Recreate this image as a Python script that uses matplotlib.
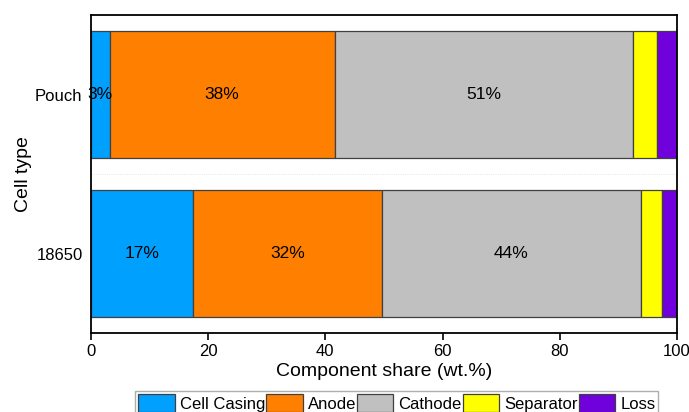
import matplotlib.pyplot as plt
import numpy as np

plt.rcParams['font.family'] = ['Liberation Sans', 'DejaVu Sans']

# Cell types, bottom to top
cell_types = ['18650', 'Pouch']

# Component shares (wt.%) per cell type
cell_casing = [17.4, 3.2]
anode = [32.3, 38.4]
cathode = [44.1, 50.9]
separator = [3.6, 4.1]
loss = [2.6, 3.4]

components = ['Cell Casing', 'Anode', 'Cathode', 'Separator', 'Loss']
colors = ['#00A0FF', '#FF8000', '#C0C0C0', '#FFFF00', '#7000DC']
labelled = ['Cell Casing', 'Anode', 'Cathode']

fig = plt.figure(figsize=(6.89, 4.12), dpi=100)
ax = fig.add_axes([0.132, 0.1917, 0.8506, 0.7719])

y = np.arange(len(cell_types))
left = np.zeros(len(cell_types))
for name, vals, color in zip(components, [cell_casing, anode, cathode, separator, loss], colors):
    vals = np.array(vals)
    ax.barh(y, vals, left=left, height=0.8, color=color, edgecolor='#404040',
            linewidth=0.9, label=name)
    if name in labelled:
        for yi, (l, v) in enumerate(zip(left, vals)):
            ax.text(l + v / 2, yi, f'{v:.0f}%', ha='center', va='center', fontsize=12.5)
    left += vals

# light separator between categories
ax.axhline(0.5, color='#dddddd', linewidth=0.6, linestyle=':', zorder=0)

ax.set_xlim(0, 100)
ax.set_ylim(-0.5, 1.5)
ax.set_xticks(np.arange(0, 101, 20))
ax.set_yticks(y)
ax.set_yticklabels(cell_types)
ax.tick_params(axis='x', direction='out', length=5, width=1.2, labelsize=12, pad=3)
ax.tick_params(axis='y', length=0, labelsize=12, pad=6)
for spine in ax.spines.values():
    spine.set_linewidth(1.3)

ax.set_xlabel('Component share (wt.%)', fontsize=14, labelpad=3)
ax.set_ylabel('Cell type', fontsize=14, labelpad=2)

leg = fig.legend(loc='upper left', bbox_to_anchor=(0.196, 0.051), ncol=5,
                 fontsize=12, frameon=True, fancybox=False, edgecolor='#999999',
                 handlelength=2.2, handleheight=1.32, handletextpad=0.3,
                 columnspacing=0.05, borderpad=0.18, borderaxespad=0)
leg.get_frame().set_linewidth(1.0)

fig.savefig('out.png', dpi=100)
